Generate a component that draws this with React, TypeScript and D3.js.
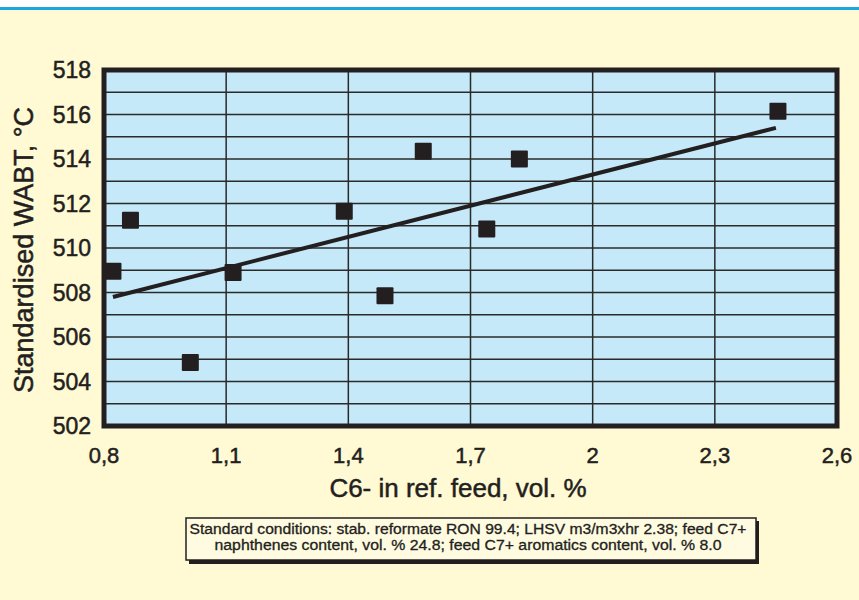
import React from "react";
import * as d3 from "d3";

// C6- content in reformer feed vs standardised WABT
const c6Content = [0.822, 0.865, 1.012, 1.117, 1.39, 1.49, 1.584, 1.74, 1.82, 2.455];
const wabt = [508.95, 511.25, 504.85, 508.9, 511.65, 507.85, 514.35, 510.85, 514.0, 516.15];
const trend = [
  [0.822, 507.8],
  [2.45, 515.4],
];
const xTicks = [0.8, 1.1, 1.4, 1.7, 2.0, 2.3, 2.6];
const yTicks = [502, 504, 506, 508, 510, 512, 514, 516, 518];
const yGrid = d3.range(503, 518, 1);
const noteLines = [
  "Standard conditions: stab. reformate RON 99.4; LHSV m3/m3xhr 2.38; feed C7+",
  "naphthenes content, vol. % 24.8; feed C7+ aromatics content, vol. % 8.0",
];
const noteWidths = [557, 507];

const W = 859;
const H = 600;
const plot = { left: 104, right: 837, top: 70, bottom: 426 };
const ink = "#231f20";
const font = "'Liberation Sans', Arial, sans-serif";

export default function App() {
  const x = d3.scaleLinear().domain([0.8, 2.6]).range([plot.left, plot.right]);
  const y = d3.scaleLinear().domain([502, 518]).range([plot.bottom, plot.top]);
  const line = d3
    .line<number[]>()
    .x((d) => x(d[0]))
    .y((d) => y(d[1]));
  const fmt = (v: number) => (Number.isInteger(v) ? String(v) : String(v).replace(".", ","));
  const sq = 17;

  return (
    <svg
      width={W}
      height={H}
      style={{ position: "absolute", left: 0, top: 0 }}
      fontFamily={font}
    >
      <rect x={0} y={0} width={W} height={H} fill="#fff9d4" />
      <rect x={0} y={0} width={W} height={7} fill="#ffffff" />
      <rect x={0} y={7} width={W} height={3} fill="#1ba8de" />

      <rect
        x={plot.left}
        y={plot.top}
        width={plot.right - plot.left}
        height={plot.bottom - plot.top}
        fill="#c6e9f9"
      />
      {yGrid.map((v) => (
        <line
          key={"h" + v}
          x1={plot.left}
          x2={plot.right}
          y1={y(v)}
          y2={y(v)}
          stroke="#2a2a2a"
          strokeWidth={1.5}
        />
      ))}
      {xTicks.slice(1, -1).map((v) => (
        <line
          key={"v" + v}
          x1={x(v)}
          x2={x(v)}
          y1={plot.top}
          y2={plot.bottom}
          stroke="#2a2a2a"
          strokeWidth={1.5}
        />
      ))}

      <path d={line(trend) || ""} stroke={ink} strokeWidth={4} fill="none" />

      {c6Content.map((cx, i) => (
        <rect
          key={"p" + i}
          x={x(cx) - sq / 2}
          y={y(wabt[i]) - sq / 2}
          width={sq}
          height={sq}
          fill={ink}
          rx={1}
        />
      ))}

      <rect
        x={plot.left}
        y={plot.top}
        width={plot.right - plot.left}
        height={plot.bottom - plot.top}
        fill="none"
        stroke={ink}
        strokeWidth={5}
      />

      <g fill={ink} stroke={ink} strokeWidth={0.5}>
        {yTicks.map((v) => (
          <text key={"yl" + v} x={91} y={y(v)} dy="0.36em" textAnchor="end" fontSize={23}>
            {v}
          </text>
        ))}
        {xTicks.map((v) => (
          <text key={"xl" + v} x={x(v)} y={463} textAnchor="middle" fontSize={22}>
            {fmt(v)}
          </text>
        ))}

        <text x={458} y={497} textAnchor="middle" fontSize={26}>
          C6- in ref. feed, vol. %
        </text>
        <text transform="translate(33,250) rotate(-90)" textAnchor="middle" fontSize={27}>
          Standardised WABT, °C
        </text>
      </g>

      <rect x={189} y={521} width={570} height={43} fill={ink} />
      <rect x={186} y={518} width={570} height={42} fill="#fffbe0" stroke={ink} strokeWidth={1.5} />
      <g fill={ink} stroke={ink} strokeWidth={0.3}>
        {noteLines.map((t, i) => (
          <text
            key={"n" + i}
            x={468}
            y={534 + i * 16}
            textAnchor="middle"
            fontSize={14}
            textLength={noteWidths[i]}
            lengthAdjust="spacingAndGlyphs"
          >
            {t}
          </text>
        ))}
      </g>
    </svg>
  );
}
